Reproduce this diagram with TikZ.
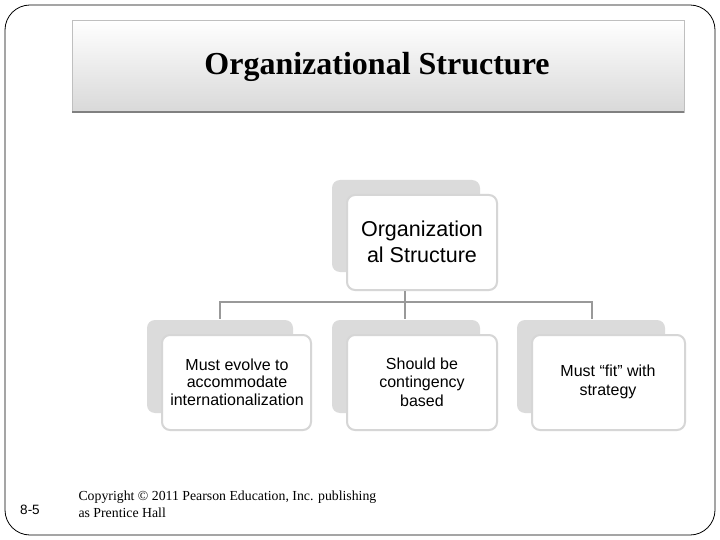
\documentclass[tikz,border=0pt]{standalone}
\usepackage{fontspec}
\setmainfont{Liberation Serif}
\setsansfont{Liberation Sans}
\begin{document}
\begin{tikzpicture}[x=1pt,y=-1pt,
  back/.style={fill=black!14,rounded corners=8pt},
  front/.style={draw=black!16,line width=2pt,fill=white,rounded corners=8pt,align=center,font=\sffamily},
  conn/.style={draw=black!40,line width=2.6pt}]
\useasboundingbox (0,0) rectangle (720,540);
\fill[white] (0,0) rectangle (720,540);
\draw[line width=0.8pt,rounded corners=25pt] (5,5) rectangle (715,535);
\shade[top color=white,bottom color=black!15] (72,20) rectangle (684,112);
\draw[black!25,line width=0.6pt] (72,20) rectangle (684,112);
\draw[black!50,line width=2.5pt] (72,112) -- (684,112);
\node (title) at (377,67) {\fontsize{32}{36}\selectfont\bfseries Organizational Structure};
% top node
\fill[back] (332,180) rectangle (480,272);
\draw[front] (347,195) rectangle (497,290);
\node[font=\sffamily\fontsize{21.5}{26}\selectfont,align=center] (top) at (422,242) {Organization\\al Structure};
\coordinate (tb) at (405,291);
\coordinate (c1) at (220,319);
\coordinate (c2) at (405,319);
\coordinate (c3) at (592,319);
\draw[conn] (tb) -- (405,302) -| (c1);
\draw[conn] (405,302) -| (c3);
\draw[conn] (405,302) -- (c2);
% children
\foreach \x/\w in {147/146,332/148,517/148}{
  \fill[back] (\x,320) rectangle ++(\w,93);
}
\draw[front] (162,335) rectangle (311,430);
\draw[front] (347,335) rectangle (497,430);
\draw[front] (532,335) rectangle (685,430);
\node[font=\sffamily\fontsize{16}{17.5}\selectfont,align=center] (a) at (237,382) {Must evolve to\\accommodate\\internationalization};
\node[font=\sffamily\fontsize{16}{18.5}\selectfont,align=center] (b) at (422,382) {Should be\\contingency\\based};
\node[font=\sffamily\fontsize{16}{18.5}\selectfont,align=center] (c) at (608,382) {Must “fit” with\\strategy};
\node[font=\sffamily\fontsize{13.5}{15}\selectfont] (pg) at (30,510) {8-5};
\node[anchor=west,align=left,font=\fontsize{13.8}{17}\selectfont] (copy) at (75,504) {Copyright © 2011 Pearson Education, Inc. publishing\\as Prentice Hall};
\end{tikzpicture}
\end{document}
